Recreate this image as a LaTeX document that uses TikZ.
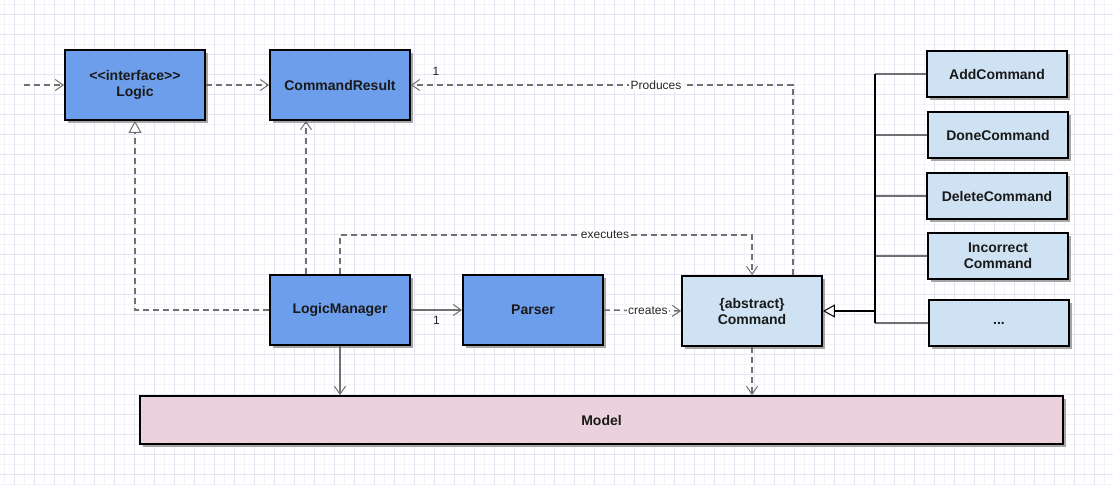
\documentclass[tikz,border=0pt]{standalone}
\usepackage{fontspec}
\newfontfamily\arial{Liberation Sans}
\usetikzlibrary{arrows.meta,calc}
\definecolor{bluebox}{HTML}{6D9EEB}
\definecolor{lightbox}{HTML}{CFE2F3}
\definecolor{pinkbox}{HTML}{EAD1DC}
\definecolor{gridminor}{HTML}{F3F3FA}
\definecolor{gridmajor}{HTML}{E4E4F2}
\definecolor{conn}{HTML}{707070}
\tikzset{
  cls/.style={draw=black, line width=1.8pt, minimum width=140pt, minimum height=70pt,
    inner sep=0pt, align=center, font=\arial\bfseries\fontsize{14}{16}\selectfont, text=black!90,
    preaction={fill=black!35, transform canvas={xshift=3pt,yshift=-3pt}}},
  sub/.style={cls, fill=lightbox, minimum height=46pt},
  lbl/.style={font=\arial\fontsize{12}{14}\selectfont, text=black!85, inner sep=1.5pt},
  sconn/.style={draw=conn, line width=1.5pt, -{Straight Barb[length=8pt,width=11pt,line width=1pt]}},
  dconn/.style={sconn, dash pattern=on 6pt off 4pt},
  tri/.style={-{Triangle[open,length=12pt,width=13pt,line width=1pt,fill=white]}},
}
\begin{document}
\begin{tikzpicture}[x=1pt,y=-1pt]
\path[use as bounding box, fill=white] (0,0) rectangle (1113,485);
% grid
\foreach \x in {4.5,24.5,...,1113} \draw[gridminor, line width=0.8pt] (\x,0) -- (\x,485);
\foreach \y in {4.5,24.5,...,485} \draw[gridminor, line width=0.8pt] (0,\y) -- (1113,\y);
\foreach \x in {14.5,34.5,...,1113} \draw[gridmajor, line width=0.8pt] (\x,0) -- (\x,485);
\foreach \y in {14.5,34.5,...,485} \draw[gridmajor, line width=0.8pt] (0,\y) -- (1113,\y);

% nodes
\node[cls, fill=bluebox] (logic) at (135,85) {<<interface>>\\Logic};
\node[cls, fill=bluebox] (cres) at (340,85) {CommandResult};
\node[cls, fill=bluebox] (lm) at (340,310) {LogicManager};
\node[cls, fill=bluebox] (parser) at (533,310) {Parser};
\node[cls, fill=lightbox] (cmd) at (752,311) {\{abstract\}\\Command};
\node[sub] (add) at (997,74) {AddCommand};
\node[sub] (done) at (998,135) {DoneCommand};
\node[sub] (del) at (997,196) {DeleteCommand};
\node[sub] (inc) at (998,256) {Incorrect\\Command};
\node[sub] (dots) at (999,323) {...};
\node[cls, fill=pinkbox, minimum width=923pt, minimum height=48pt] (model) at (601.5,420) {Model};

% connectors
\coordinate (start) at (24,85);
\draw[dconn] (start) -- (logic.west);
\draw[dconn] (logic.east) -- (logic.east -| cres.west);
\draw[dconn] ([xshift=-34pt]lm.north) -- ([xshift=-34pt]cres.south);
\draw[dconn, tri] (lm.west) -| (logic.south);
\draw[sconn] (lm.east) -- node[lbl, below=4pt, pos=0.5] (one1) {1} (parser.west);
\draw[dconn] (parser.east) -- node[lbl, fill=white, pos=0.57] (creates) {creates} (cmd.west);
\coordinate (exec) at (605,235);
\draw[dconn] (lm.north) |- (exec) -| (cmd.north);
\node[lbl, fill=white] (execl) at (exec) {executes};
\coordinate (prod) at (656,85);
\draw[dconn] ([xshift=41pt]cmd.north) |- (prod) -- (cres.east);
\node[lbl, fill=white] (prodl) at (prod) {Produces};
\node[lbl] (one2) at ([xshift=25pt,yshift=14pt]cres.east) {1};
\draw[sconn] (lm.south) -- (lm.south |- model.north);
\draw[dconn] (cmd.south) -- (cmd.south |- model.north);

% inheritance tree
\coordinate (tk) at (875,0);
\foreach \n in {add,done,del,inc,dots}
  \draw[conn, line width=1.4pt] (\n.west) -- (\n.west -| tk);
\draw[black, line width=1.4pt] (add.west -| tk) -- (dots.west -| tk);
\draw[black, line width=2.2pt, tri] (cmd.east -| tk) -- (cmd.east);
\end{tikzpicture}
\end{document}
